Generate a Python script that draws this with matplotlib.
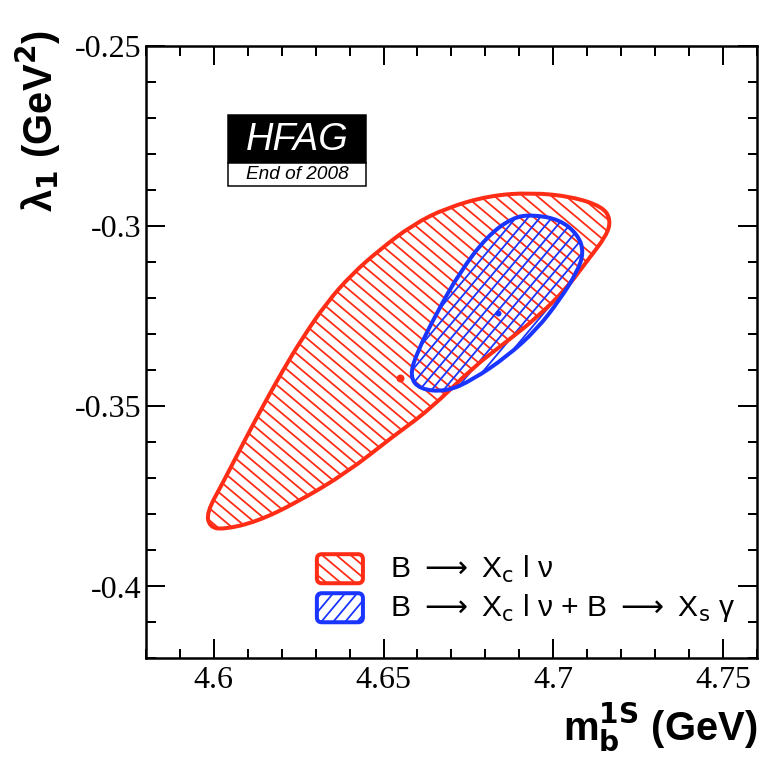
import numpy as np
import matplotlib
matplotlib.use('Agg')
import matplotlib.pyplot as plt
from matplotlib.path import Path
from matplotlib.patches import PathPatch, Rectangle, FancyBboxPatch
from matplotlib.collections import LineCollection
from matplotlib.ticker import MultipleLocator, FuncFormatter

# fit contours (m_b^1S, lambda_1)
red_x = [4.5979, 4.5988, 4.6027, 4.6127, 4.6244, 4.6392, 4.6527, 4.6636, 4.6763, 4.6863,
         4.6951, 4.7039, 4.7098, 4.7157, 4.7169, 4.7145, 4.7054, 4.6936, 4.6813, 4.6686,
         4.6586, 4.6489, 4.6406, 4.6333, 4.6262, 4.6200, 4.6144, 4.6097, 4.6027]
red_y = [-0.3796, -0.3835, -0.3843, -0.3821, -0.3768, -0.3685, -0.3585, -0.3510, -0.3393, -0.3321,
         -0.3255, -0.3174, -0.3099, -0.3027, -0.2983, -0.2947, -0.2919, -0.2908, -0.2916, -0.2950,
         -0.2997, -0.3066, -0.3135, -0.3213, -0.3310, -0.3407, -0.3502, -0.3585, -0.3713]

blue_x = [4.6939, 4.7019, 4.7072, 4.7090, 4.7069, 4.7019, 4.6951, 4.6863, 4.6763, 4.6686,
          4.6607, 4.6577, 4.6598, 4.6657, 4.6724, 4.6804, 4.6880]
blue_y = [-0.2969, -0.2983, -0.3024, -0.3074, -0.3130, -0.3205, -0.3288, -0.3363, -0.3427, -0.3460,
          -0.3454, -0.3418, -0.3352, -0.3241, -0.3130, -0.3030, -0.2977]

red_best = (4.6548, -0.3421)
blue_best = (4.6836, -0.3241)

labels = [r'B $\longrightarrow$ X$_\mathrm{c}$ l ν',
          r'B $\longrightarrow$ X$_\mathrm{c}$ l ν + B $\longrightarrow$ X$_\mathrm{s}$ γ']

RED = '#ff2d16'
BLUE = '#1a35ff'

plt.rcParams['font.family'] = ['Liberation Sans', 'DejaVu Sans']
plt.rcParams['mathtext.fontset'] = 'dejavusans'


def closed_curve(xs, ys):
    # smooth closed path, the read points act as control points
    pts = np.column_stack([xs, ys])
    mids = (pts + np.roll(pts, -1, axis=0)) / 2
    verts = [mids[-1]]
    codes = [Path.MOVETO]
    for i in range(len(pts)):
        verts += [pts[i], mids[i]]
        codes += [Path.CURVE3, Path.CURVE3]
    verts.append(mids[-1])
    codes.append(Path.CLOSEPOLY)
    return Path(verts, codes)


def add_hatch(ax, patch, color, angle, step=0.015, z=2):
    # ROOT-like hatching: parallel lines clipped to the patch
    t = np.radians(angle)
    d = np.array([np.cos(t), np.sin(t)])
    nrm = np.array([-np.sin(t), np.cos(t)])
    segs = [[0.5 + c * nrm - 1.5 * d, 0.5 + c * nrm + 1.5 * d]
            for c in np.arange(-1.5, 1.5, step)]
    lc = LineCollection(segs, colors=color, linewidths=1.8,
                        transform=ax.transAxes, zorder=z)
    ax.add_collection(lc, autolim=False)
    lc.set_clip_path(patch)


fig = plt.figure(figsize=(760.4 / 72, 761.4 / 72), dpi=72)
ax = fig.add_axes([0.1917, 0.1349, 0.804, 0.8047])
ax.set_xlim(4.58, 4.76)
ax.set_ylim(-0.42, -0.25)

red_patch = PathPatch(closed_curve(red_x, red_y), facecolor='none', edgecolor=RED, lw=4, zorder=3)
blue_patch = PathPatch(closed_curve(blue_x, blue_y), facecolor='none', edgecolor=BLUE, lw=4, zorder=3.5)
ax.add_patch(red_patch)
ax.add_patch(blue_patch)
add_hatch(ax, red_patch, RED, -40)
add_hatch(ax, blue_patch, BLUE, 50, z=2.5)
ax.plot(*red_best, 'o', color=RED, ms=8, mec='none', zorder=4)
ax.plot(*blue_best, 'o', color=BLUE, ms=6, mec='none', zorder=4)

ax.xaxis.set_major_locator(MultipleLocator(0.05))
ax.xaxis.set_minor_locator(MultipleLocator(0.01))
ax.yaxis.set_major_locator(MultipleLocator(0.05))
ax.yaxis.set_minor_locator(MultipleLocator(0.01))
fmt = FuncFormatter(lambda v, p: '%g' % round(v, 3))
ax.xaxis.set_major_formatter(fmt)
ax.yaxis.set_major_formatter(fmt)

ax.tick_params(which='both', direction='in', top=True, right=True, width=2,
               labelsize=32, labelfontfamily='Liberation Serif')
ax.tick_params(which='major', length=19)
ax.tick_params(which='minor', length=9.5)
ax.tick_params(axis='x', pad=7)
ax.tick_params(axis='y', pad=4)
for s in ax.spines.values():
    s.set_linewidth(2.5)

ax.set_xlabel(r'm$_\mathbf{b}^\mathbf{1S}$ (GeV)', fontsize=40, fontweight='bold', loc='right')
ax.xaxis.set_label_coords(1.0, -0.068)
ax.set_ylabel(r'λ$_\mathbf{1}$ (GeV$^\mathbf{2}$)', fontsize=40, fontweight='bold', loc='top')
ax.yaxis.set_label_coords(-0.135, 1.026)

# HFAG logo
ax.add_patch(Rectangle((0.1347, 0.8088), 0.2259, 0.0785, transform=ax.transAxes,
                       facecolor='black', edgecolor='black', lw=1.5, zorder=5))
ax.add_patch(Rectangle((0.1347, 0.7712), 0.2259, 0.0376, transform=ax.transAxes,
                       facecolor='white', edgecolor='black', lw=1.5, zorder=5))
ax.text(0.2476, 0.8464, 'HFAG', transform=ax.transAxes, color='white', fontsize=38,
        style='italic', ha='center', va='center', zorder=6)
ax.text(0.2476, 0.7905, 'End of 2008', transform=ax.transAxes, color='black', fontsize=19,
        style='italic', ha='center', va='center', zorder=6)

# legend
for i, (col, ang) in enumerate([(RED, -40), (BLUE, 50)]):
    y0 = [0.1225, 0.0588][i]
    box = FancyBboxPatch((0.2799, y0), 0.0753, 0.0474, transform=ax.transAxes,
                         boxstyle='round,pad=0,rounding_size=0.008',
                         facecolor='none', edgecolor=col, lw=4, zorder=6)
    ax.add_patch(box)
    add_hatch(ax, box, col, ang, step=0.015, z=5)
    ax.text(0.3998, [0.1324, 0.0703][i], labels[i], transform=ax.transAxes,
            fontsize=30, va='baseline', ha='left', zorder=6)

fig.savefig('out.png', dpi=72)
